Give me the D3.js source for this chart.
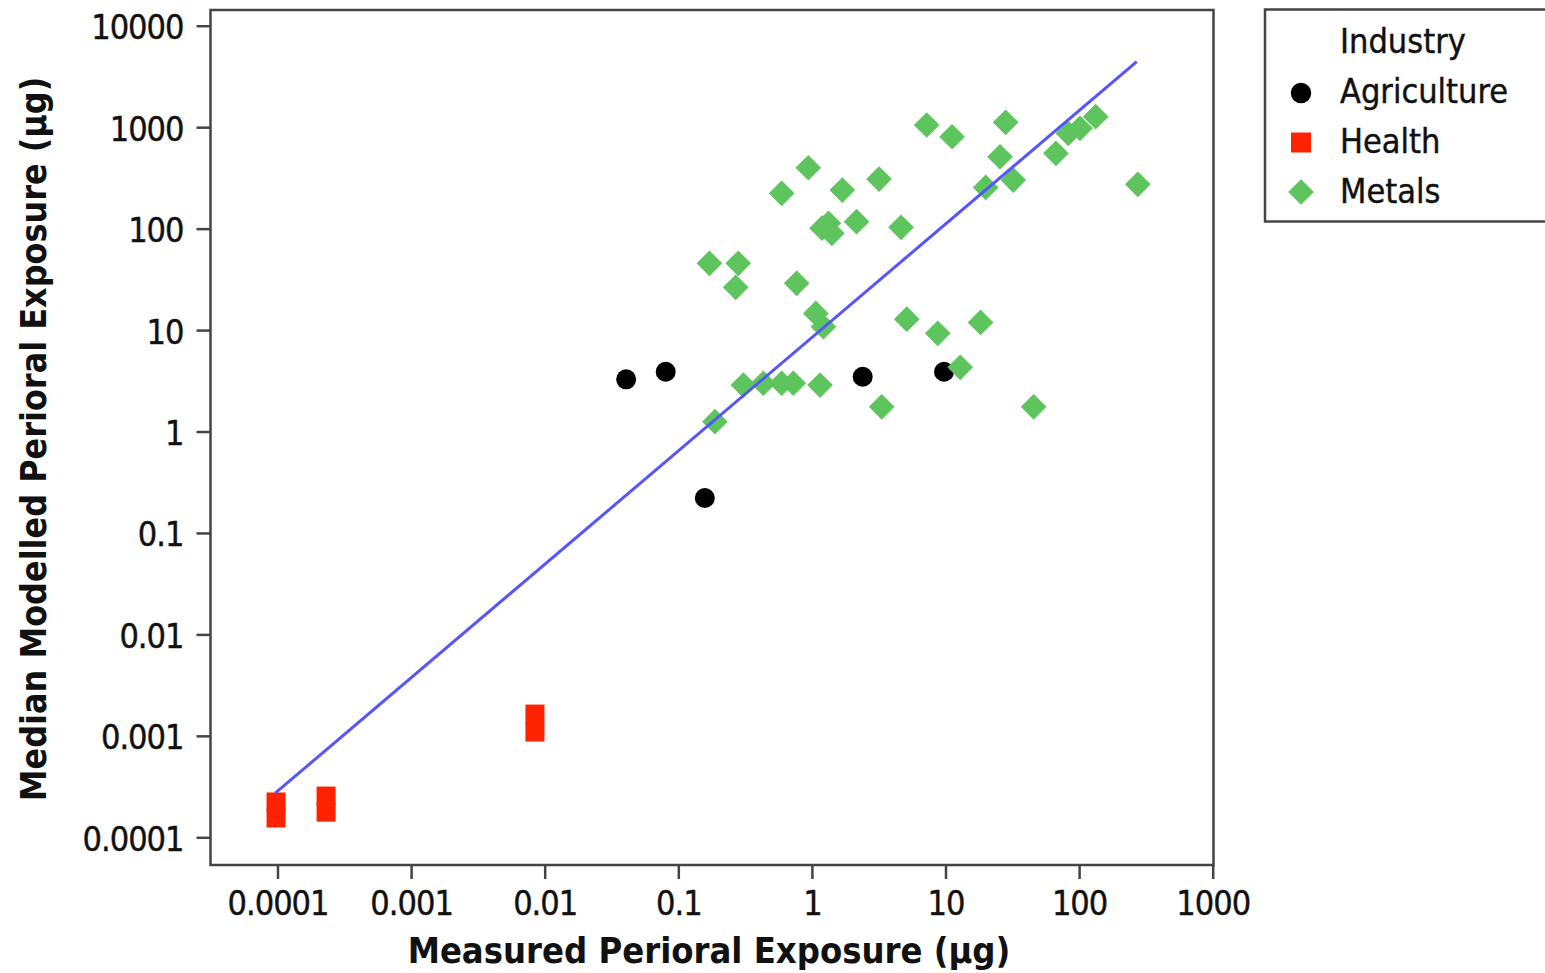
<!DOCTYPE html>
<html lang="en">
<head>
    <meta charset="UTF-8">
    <title>Measured vs Modelled Perioral Exposure</title>
    <style>
        body {
            margin: 0;
            padding: 0;
            background-color: #ffffff;
        }
        .tick-label {
            font-family: "DejaVu Sans Condensed", "DejaVu Sans", sans-serif;
            font-size: 34px;
            letter-spacing: -1px;
            fill: #111;
            stroke: #111;
            stroke-width: 0.4px;
        }
        .axis-title {
            font-family: "DejaVu Sans Condensed", "DejaVu Sans", sans-serif;
            font-weight: bold;
            font-size: 36px;
            fill: #111;
        }
        .legend-text {
            font-family: "DejaVu Sans Condensed", "DejaVu Sans", sans-serif;
            font-size: 34px;
            fill: #111;
            stroke: #111;
            stroke-width: 0.4px;
        }
    </style>
</head>
<body>
    <div id="chart"></div>

    <script src="https://cdnjs.cloudflare.com/ajax/libs/d3/7.8.5/d3.min.js"></script>
    <script>
        // Tick values and their printed labels
        const xTicks = [1e-4, 1e-3, 1e-2, 1e-1, 1, 10, 100, 1000];
        const xTickLabels = ["0.0001", "0.001", "0.01", "0.1", "1", "10", "100", "1000"];
        const yTicks = [1e-4, 1e-3, 1e-2, 1e-1, 1, 10, 100, 1000, 10000];
        const yTickLabels = ["0.0001", "0.001", "0.01", "0.1", "1", "10", "100", "1000", "10000"];

        const industries = ["Agriculture", "Health", "Metals"];

        // Agriculture (black circles)
        const agriX = [0.0407, 0.0805, 0.158, 2.40, 9.75];
        const agriY = [3.27, 3.88, 0.221, 3.47, 3.88];

        // Health (red squares)
        const healthX = [9.75e-5, 9.75e-5, 2.31e-4, 2.31e-4, 8.45e-3, 8.45e-3];
        const healthY = [2.23e-4, 1.55e-4, 2.55e-4, 1.77e-4, 1.64e-3, 1.09e-3];

        // Metals (green diamonds)
        const metalsX = [7.23, 11.2, 28.2, 25.6, 32.2, 20.0, 67.1, 83.0, 101.6, 133, 275,
            0.94, 0.594, 1.69, 3.18, 1.33, 1.41, 2.16, 4.65, 1.19,
            0.171, 0.281, 0.269, 0.769, 1.07, 1.22, 5.13, 8.75, 18.3, 12.9,
            0.307, 0.433, 0.594, 0.726, 1.15, 3.33, 45.7, 0.188];
        const metalsY = [1050, 805, 1116, 511, 301, 255, 552, 870, 975, 1268, 273,
            398, 223, 240, 308, 113, 89.9, 117, 103, 101,
            45.5, 45.5, 26.4, 28.9, 14.6, 10.8, 12.8, 9.29, 11.9, 4.29,
            2.87, 2.99, 2.99, 2.99, 2.87, 1.75, 1.75, 1.25];

        // Fitted line end points
        const fitX = [9.6e-5, 270];
        const fitY = [2.72e-4, 4420];

        const width = 1545;
        const height = 973;
        const plot = { left: 210.5, right: 1213.5, top: 10, bottom: 865 };

        const svg = d3.select('#chart')
            .append('svg')
            .attr('width', width)
            .attr('height', height);

        const x = d3.scaleLog()
            .domain([Math.pow(10, -4.5015), Math.pow(10, 3.006)])
            .range([plot.left, plot.right]);

        const y = d3.scaleLog()
            .domain([Math.pow(10, -4.273), Math.pow(10, 4.155)])
            .range([plot.bottom, plot.top]);

        // Axes
        const xAxis = d3.axisBottom(x)
            .tickValues(xTicks)
            .tickFormat((d, i) => xTickLabels[i])
            .tickSizeInner(14)
            .tickSizeOuter(0);

        const gx = svg.append('g')
            .attr('transform', `translate(0,${plot.bottom})`)
            .call(xAxis);
        gx.select('.domain').remove();
        gx.selectAll('line').attr('stroke', '#444').attr('stroke-width', 2.5);
        gx.selectAll('text')
            .attr('class', 'tick-label')
            .attr('y', 50)
            .attr('dy', 0);
        gx.attr('font-size', null).attr('font-family', null);

        const yAxis = d3.axisLeft(y)
            .tickValues(yTicks)
            .tickFormat((d, i) => yTickLabels[i])
            .tickSizeInner(14)
            .tickSizeOuter(0);

        const gy = svg.append('g')
            .attr('transform', `translate(${plot.left},0)`)
            .call(yAxis);
        gy.select('.domain').remove();
        gy.selectAll('line').attr('stroke', '#444').attr('stroke-width', 2.5);
        gy.selectAll('text')
            .attr('class', 'tick-label')
            .attr('x', -27)
            .attr('dy', 13);
        gy.attr('font-size', null).attr('font-family', null);

        // Plot frame
        svg.append('rect')
            .attr('x', plot.left)
            .attr('y', plot.top)
            .attr('width', plot.right - plot.left)
            .attr('height', plot.bottom - plot.top)
            .attr('fill', 'none')
            .attr('stroke', '#444')
            .attr('stroke-width', 2.5);

        // Axis titles
        svg.append('text')
            .attr('class', 'axis-title')
            .attr('x', 709)
            .attr('y', 963)
            .attr('text-anchor', 'middle')
            .text('Measured Perioral Exposure (µg)');

        svg.append('text')
            .attr('class', 'axis-title')
            .attr('transform', 'translate(46,439) rotate(-90)')
            .attr('text-anchor', 'middle')
            .style('font-size', '35.5px')
            .text('Median Modelled Perioral Exposure (µg)');

        const colors = { Agriculture: '#000000', Health: '#ff2200', Metals: '#5ec45e' };
        const shapes = {
            Agriculture: d3.symbol(d3.symbolCircle, 314),
            Health: d3.symbol(d3.symbolSquare, 361),
            Metals: d3.symbol(d3.symbolSquare, 330)
        };
        const rotation = { Agriculture: 0, Health: 0, Metals: 45 };

        const series = [
            { name: 'Agriculture', xs: agriX, ys: agriY },
            { name: 'Health', xs: healthX, ys: healthY },
            { name: 'Metals', xs: metalsX, ys: metalsY }
        ];

        series.forEach(s => {
            const pts = s.xs.map((v, i) => [v, s.ys[i]]);
            svg.append('g')
                .selectAll('path')
                .data(pts)
                .enter()
                .append('path')
                .attr('d', shapes[s.name]())
                .attr('transform', d => `translate(${x(d[0])},${y(d[1])}) rotate(${rotation[s.name]})`)
                .attr('fill', colors[s.name]);
        });

        // Fitted line drawn above the markers
        const line = d3.line()
            .x(d => x(d[0]))
            .y(d => y(d[1]));

        svg.append('path')
            .datum(fitX.map((v, i) => [v, fitY[i]]))
            .attr('d', line)
            .attr('fill', 'none')
            .attr('stroke', '#5555ff')
            .attr('stroke-width', 3);

        // Legend
        const legend = svg.append('g');
        legend.append('rect')
            .attr('x', 1265)
            .attr('y', 9.5)
            .attr('width', 300)
            .attr('height', 212)
            .attr('fill', '#fff')
            .attr('stroke', '#444')
            .attr('stroke-width', 2.5);

        legend.append('text')
            .attr('class', 'legend-text')
            .attr('x', 1340)
            .attr('y', 53)
            .text('Industry');

        industries.forEach((name, i) => {
            const cy = 93 + i * 49.5;
            legend.append('path')
                .attr('d', d3.symbol(shapes[name].type(), name === 'Health' ? 400 : 330)())
                .attr('transform', `translate(1301,${cy}) rotate(${rotation[name]})`)
                .attr('fill', colors[name]);
            legend.append('text')
                .attr('class', 'legend-text')
                .attr('x', 1340)
                .attr('y', 103 + i * 50)
                .text(name);
        });
    </script>
</body>
</html>
